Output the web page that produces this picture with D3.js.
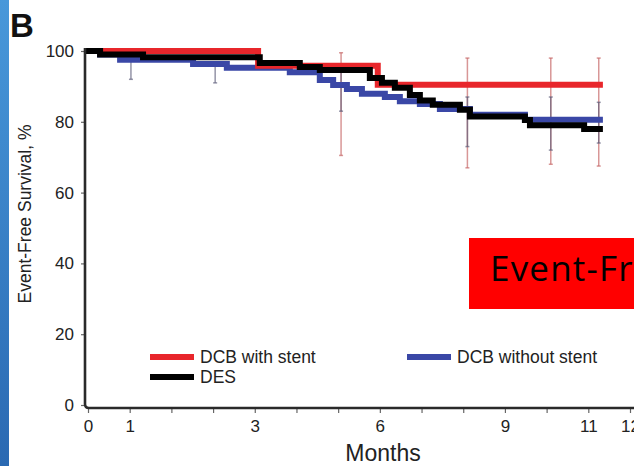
<!DOCTYPE html>
<meta charset="utf-8">
<title>Event-Free Survival</title>
<style>
body {
  margin: 0;
  background: #fff;
}
svg {
  display: block;
  font-family: "Liberation Sans", Arial, sans-serif;
}
</style>
<body></body>
<script src="https://d3js.org/d3.v7.min.js"></script>
<script>
var width = 634,
    height = 466;

// x axis positions (months) and the labels printed under them
var xTickValues = [-1, 0, 1, 2, 3, 4, 5, 6, 7, 8, 9, 10, 11, 12];
var xTickLabels = ['0', '1', '', '', '3', '', '', '6', '', '', '9', '', '11', '12'];
var yTickValues = [0, 20, 40, 60, 80, 100];

// step curves (time in months, event-free survival %)
var redTimes = [-1.07, 3.08, 5.95, 11.35];
var redSurv = [100, 95.8, 90.5, 90.5];

var blueTimes = [-1.07, -0.71, -0.23, 1.52, 2.33, 3.84, 4.56, 4.88, 5.21, 5.57, 6.12, 6.48, 6.96, 7.44, 8.16, 9.48, 11.35];
var blueSurv = [100, 99, 97.5, 96.3, 95.3, 94, 91.8, 90.4, 89.3, 87.9, 87, 85.8, 85, 83.6, 82, 80.6, 80.6];

var blackTimes = [-1.07, -0.71, 0.32, 3.12, 4.08, 4.56, 5.76, 6.05, 6.36, 6.72, 6.96, 7.27, 7.92, 8.16, 9.48, 9.6, 10.9, 11.35];
var blackSurv = [100, 99, 98.2, 96.6, 95.5, 94.6, 92.4, 91, 89.6, 87.6, 86, 84.8, 83.4, 81.5, 80.5, 79, 78, 78];

// confidence interval bars
var ciTimes = [0.03, 2.05, 5.07, 8.1, 10.1, 11.25];
var redLow = [null, null, 70.5, 67, 68, 67.5];
var redHigh = [null, null, 99.5, 98, 98, 98];
var grayLow = [92, 91, 83, 73, 72, 74];
var grayHigh = [98.5, 96, 96, 87, 87, 85.5];

var legendNames = ['DCB with stent', 'DCB without stent', 'DES'];
var legendColors = ['#e8262b', '#3a47a6', '#000'];

var x = d3.scaleLinear().domain([-1, 12]).range([88, 630]);
var y = d3.scaleLinear().domain([0, 100]).range([405, 51]);

var svg = d3.select('body').append('svg')
  .attr('width', width)
  .attr('height', height);

// blue strip on the left edge
var grad = svg.append('defs').append('linearGradient')
  .attr('id', 'strip')
  .attr('x1', 0).attr('y1', 0).attr('x2', 0).attr('y2', 1);
grad.append('stop').attr('offset', '0%').attr('stop-color', '#4898da');
grad.append('stop').attr('offset', '100%').attr('stop-color', '#2a69b2');
svg.append('rect')
  .attr('x', 0).attr('y', 0)
  .attr('width', 9).attr('height', height)
  .style('fill', 'url(#strip)');

svg.append('text')
  .attr('x', 10).attr('y', 37)
  .style('font-size', '33px')
  .style('font-weight', 'bold')
  .style('fill', '#111')
  .text('B');

// confidence bars
function drawBars(lows, highs, color) {
  var g = svg.append('g')
    .style('stroke', color)
    .style('stroke-width', 1.5);
  ciTimes.forEach(function (t, i) {
    if (lows[i] == null) return;
    var cx = x(t);
    g.append('line')
      .attr('x1', cx).attr('x2', cx)
      .attr('y1', y(lows[i])).attr('y2', y(highs[i]));
    [lows[i], highs[i]].forEach(function (v) {
      g.append('line')
        .attr('x1', cx - 2).attr('x2', cx + 2)
        .attr('y1', y(v)).attr('y2', y(v));
    });
  });
}
drawBars(redLow, redHigh, 'rgba(200, 105, 105, 0.7)');
drawBars(grayLow, grayHigh, 'rgba(90, 90, 120, 0.65)');

var line = d3.line()
  .x(function (d) { return x(d[0]); })
  .y(function (d) { return y(d[1]); })
  .curve(d3.curveStepAfter);

function drawCurve(times, surv, color) {
  svg.append('path')
    .datum(d3.zip(times, surv))
    .attr('d', line)
    .style('fill', 'none')
    .style('stroke', color)
    .style('stroke-width', 6);
}
drawCurve(blueTimes, blueSurv, legendColors[1]);
drawCurve(redTimes, redSurv, legendColors[0]);
drawCurve(blackTimes, blackSurv, legendColors[2]);

// axes
var xAxis = svg.append('g')
  .attr('transform', 'translate(0,408)')
  .call(d3.axisBottom(x)
    .tickValues(xTickValues)
    .tickFormat(function (d, i) { return xTickLabels[i]; })
    .tickSize(5)
    .tickPadding(7));
xAxis.select('.domain').remove();
xAxis.selectAll('line').style('stroke', '#666').style('stroke-width', 1.2);
xAxis.selectAll('text')
  .style('font-size', '17px')
  .style('font-family', '"Liberation Sans", Arial, sans-serif')
  .style('fill', '#222');

var yAxis = svg.append('g')
  .attr('transform', 'translate(85,0)')
  .call(d3.axisLeft(y)
    .tickValues(yTickValues)
    .tickSize(4)
    .tickPadding(7));
yAxis.select('.domain').remove();
yAxis.selectAll('line').style('stroke', '#666').style('stroke-width', 1.2);
yAxis.selectAll('text')
  .style('font-size', '17px')
  .style('font-family', '"Liberation Sans", Arial, sans-serif')
  .style('fill', '#222');

svg.append('path')
  .attr('d', 'M85,48 V404 Q85,408 89,408 H' + width)
  .style('fill', 'none')
  .style('stroke', '#2a2a2a')
  .style('stroke-width', 2.6);

svg.append('text')
  .attr('x', 383).attr('y', 461)
  .attr('text-anchor', 'middle')
  .style('font-size', '23px')
  .style('fill', '#222')
  .text('Months');

svg.append('text')
  .attr('transform', 'translate(31,214) rotate(-90)')
  .attr('text-anchor', 'middle')
  .style('font-size', '17.5px')
  .style('fill', '#222')
  .text('Event-Free Survival, %');

// legend
var legendPos = [[150, 357], [407, 357], [150, 377]];
legendNames.forEach(function (name, i) {
  var p = legendPos[i];
  svg.append('line')
    .attr('x1', p[0]).attr('x2', p[0] + 44)
    .attr('y1', p[1]).attr('y2', p[1])
    .style('stroke', legendColors[i])
    .style('stroke-width', 6);
  svg.append('text')
    .attr('x', p[0] + 50).attr('y', p[1] + 6)
    .style('font-size', '17.5px')
    .style('fill', '#222')
    .text(name);
});

// red label box, cut off by the right edge
svg.append('rect')
  .attr('x', 469).attr('y', 238)
  .attr('width', 200).attr('height', 71)
  .style('fill', '#ff0000');
svg.append('text')
  .attr('x', 490).attr('y', 281)
  .style('font-family', '"Open Sans", sans-serif')
  .style('font-size', '35px')
  .style('letter-spacing', '1.2px')
  .style('fill', '#000')
  .text('Event-Free Survival');
</script>
